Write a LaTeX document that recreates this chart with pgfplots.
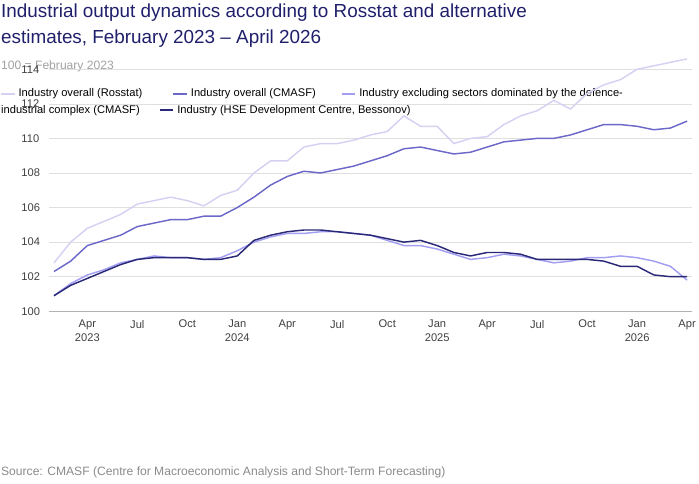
\documentclass[border=0pt]{standalone}
\usepackage{pgfplots}
\pgfplotsset{compat=1.18}
\usepackage{fontspec}
\setmainfont{Liberation Sans}
\definecolor{cRos}{HTML}{D4D1F2}
\definecolor{cCm}{HTML}{6B68C9}
\definecolor{cEx}{HTML}{A29EF2}
\definecolor{cHse}{HTML}{2A2978}
\definecolor{cTit}{HTML}{1F1F6B}
\definecolor{cGr}{HTML}{8A8A8A}
\begin{document}
\begin{tikzpicture}[x=1pt,y=1pt]
\path (0,0) rectangle (699,499);
\node[anchor=north west,align=left,text=cTit,font=\fontsize{19.5}{27}\selectfont,inner sep=0] at (0,495) {Industrial output dynamics according to Rosstat and alternative\\estimates, February 2023 -- April 2026};
\node[anchor=north west,text=cGr!80,font=\fontsize{12.5}{15}\selectfont,inner sep=0] at (0,436) {100 = February 2023};
\begin{scope}[font=\fontsize{11.5}{14}\selectfont]
\draw[cRos,line width=2] (0,402)--(14,402); \node[anchor=west,inner sep=0] at (18,402) {Industry overall (Rosstat)};
\draw[cCm,line width=2] (178,402)--(192,402); \node[anchor=west,inner sep=0] at (196,402) {Industry overall (CMASF)};
\draw[cEx,line width=2] (352,402)--(366,402); \node[anchor=west,inner sep=0] at (370,402) {Industry excluding sectors dominated by the defence-};
\node[anchor=west,inner sep=0] at (0,385) {industrial complex (CMASF)};
\draw[cHse,line width=2] (164,385)--(178,385); \node[anchor=west,inner sep=0] at (182,385) {Industry (HSE Development Centre, Bessonov)};
\end{scope}
\node[anchor=west,text=cGr,font=\fontsize{12.5}{15}\selectfont,inner sep=0] at (0,11) {Source: CMASF (Centre for Macroeconomic Analysis and Short-Term Forecasting)};
\begin{axis}[at={(28.84,97.4)},anchor=south west,scale only axis,width=664.3pt,height=271.4pt,
 xmin=-0.3,xmax=38.3,ymin=99.8,ymax=115,
 axis line style={draw=none}, ymajorgrids, grid style={gray!25},
 ytick={100,102,...,114},
 xtick={2,5,...,38},
 xticklabels={Apr\\2023,Jul,Oct,Jan\\2024,Apr,Jul,Oct,Jan\\2025,Apr,Jul,Oct,Jan\\2026,Apr},
 xticklabel style={align=center,font=\fontsize{11.5}{14}\selectfont,text=black!75,anchor=north,yshift=-2pt},
 yticklabel style={font=\fontsize{11.5}{14}\selectfont,text=black!75,anchor=west,xshift=-32pt},
 /pgf/number format/assume math mode=true,
 tick style={draw=none},
 clip=false]
\draw[gray!60] (axis cs:-0.3,100)--(axis cs:38.3,100);
\addplot[cRos,line width=1.5,mark=none] coordinates {(0,102.8)(1,104.0)(2,104.8)(3,105.2)(4,105.6)(5,106.2)(6,106.4)(7,106.6)(8,106.4)(9,106.1)(10,106.7)(11,107.0)(12,108.0)(13,108.7)(14,108.7)(15,109.5)(16,109.7)(17,109.7)(18,109.9)(19,110.2)(20,110.4)(21,111.3)(22,110.7)(23,110.7)(24,109.7)(25,110.0)(26,110.1)(27,110.8)(28,111.3)(29,111.6)(30,112.2)(31,111.7)(32,112.6)(33,113.1)(34,113.4)(35,114.0)(36,114.2)(37,114.4)(38,114.6)};
\addplot[cCm,line width=1.5,mark=none] coordinates {(0,102.3)(1,102.9)(2,103.8)(3,104.1)(4,104.4)(5,104.9)(6,105.1)(7,105.3)(8,105.3)(9,105.5)(10,105.5)(11,106.0)(12,106.6)(13,107.3)(14,107.8)(15,108.1)(16,108.0)(17,108.2)(18,108.4)(19,108.7)(20,109.0)(21,109.4)(22,109.5)(23,109.3)(24,109.1)(25,109.2)(26,109.5)(27,109.8)(28,109.9)(29,110.0)(30,110.0)(31,110.2)(32,110.5)(33,110.8)(34,110.8)(35,110.7)(36,110.5)(37,110.6)(38,111.0)};
\addplot[cEx,line width=1.5,mark=none] coordinates {(0,100.9)(1,101.6)(2,102.1)(3,102.4)(4,102.8)(5,103.0)(6,103.2)(7,103.1)(8,103.1)(9,103.0)(10,103.1)(11,103.5)(12,104.0)(13,104.3)(14,104.5)(15,104.5)(16,104.6)(17,104.6)(18,104.5)(19,104.4)(20,104.1)(21,103.8)(22,103.8)(23,103.6)(24,103.3)(25,103.0)(26,103.1)(27,103.3)(28,103.2)(29,103.0)(30,102.8)(31,102.9)(32,103.1)(33,103.1)(34,103.2)(35,103.1)(36,102.9)(37,102.6)(38,101.8)};
\addplot[cHse,line width=1.5,mark=none] coordinates {(0,100.9)(1,101.5)(2,101.9)(3,102.3)(4,102.7)(5,103.0)(6,103.1)(7,103.1)(8,103.1)(9,103.0)(10,103.0)(11,103.2)(12,104.1)(13,104.4)(14,104.6)(15,104.7)(16,104.7)(17,104.6)(18,104.5)(19,104.4)(20,104.2)(21,104.0)(22,104.1)(23,103.8)(24,103.4)(25,103.2)(26,103.4)(27,103.4)(28,103.3)(29,103.0)(30,103.0)(31,103.0)(32,103.0)(33,102.9)(34,102.6)(35,102.6)(36,102.1)(37,102.0)(38,102.0)};
\end{axis}
\end{tikzpicture}
\end{document}
